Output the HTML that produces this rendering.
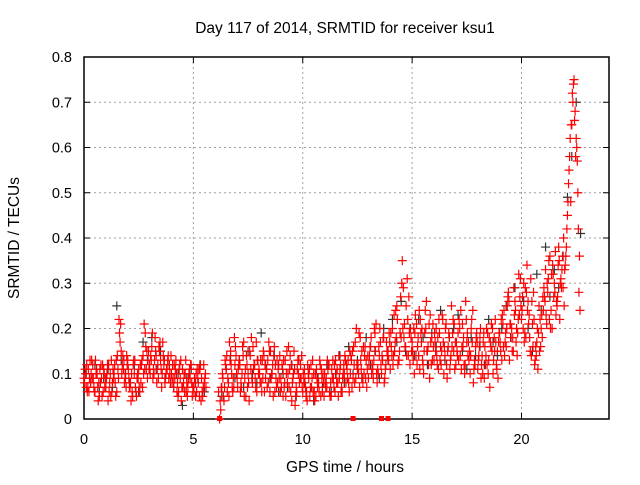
<!DOCTYPE html>
<html><head><meta charset="utf-8"><style>
body{margin:0;background:#fff;}
svg text{font-family:"Liberation Sans",sans-serif;fill:#000;}
</style></head><body>
<svg id="chart" width="640" height="480" viewBox="0 0 640 480" xmlns="http://www.w3.org/2000/svg">
<rect width="640" height="480" fill="#fff"/>
<text x="345" y="33" text-anchor="middle" font-size="15.5">Day 117 of 2014, SRMTID for receiver ksu1</text>
<g id="grid"></g><g id="axes"></g><g id="marks"></g>
<text x="345" y="472" text-anchor="middle" font-size="15.5">GPS time / hours</text>
<text x="19" y="238" text-anchor="middle" font-size="15.5" transform="rotate(-90 19 238)">SRMTID / TECUs</text>
</svg>
<script>
const xTicks=[0,5,10,15,20];
const yTicks=[0,0.1,0.2,0.3,0.4,0.5,0.6,0.7,0.8];
const yTickLabels=["0","0.1","0.2","0.3","0.4","0.5","0.6","0.7","0.8"];
const redA=[.09,.07,.11,.08,.12,.06,.10,.05,.09,.11,
.07,.04,.10,.08,.12,.06,.22,.15,.11,.09,
.13,.07,.06,.10,.05,.11,.08,.14,.19,.09,
.12,.16,.10,.14,.09,.13,.17,.08,.11,.12,
.10,.07,.13,.05,.09,.11,.06,.08,.10,.12,
.07,.05,.09,.11,.06,.08,null,null,null,null,
null,null,.00,.07,.04,.11,.08,.15,.06,.12,
.09,.13,.07,.17,.05,.10,.14,.08,.12,.06,
.11,.08,.15,.09,.13,.06,.10,.16,.07,.12,
.09,.05,.13,.08,.11,.04,.15,.07,.10,.12,
.06,.09,.04,.11,.07,.10,.05,.08,.12,.06,
.10,.07,.12,.05,.09,.13,.08,.11,.06,.10,
.12,.08,.14,.09,.17,.11,.07,.15,.10,.13,
.09,.16,.11,.19,.08,.14,.10,.18,.12,.15,
.11,.20,.15,.25,.13,.18,.29,.16,.22,.12,
.17,.10,.21,.14,.19,.12,.24,.15,.09,.18,
.13,.20,.11,.16,.22,.14,.09,.18,.25,.15,
.12,.19,.14,.21,.10,.17,.13,.20,.08,.16,
.11,.18,.14,.09,.20,.13,.16,.10,.22,.15,
.19,.13,.24,.16,.28,.21,.18,.26,.14,.23,
.22,.30,.18,.26,.15,.21,.12,.17,.25,.20,
.24,.33,.28,.36,.20,.30,.26,.38,.31,.29,
.34,.45,.58,.65,.75,.62,.42];
const redB=[.11,.06,.09,.13,.07,.10,.04,.08,.12,.07,
.10,.06,.13,.09,.05,.11,.17,.12,.08,.14,
.09,.04,.12,.07,.10,.06,.13,.21,.11,.15,
.14,.09,.18,.11,.15,.07,.12,.10,.14,.08,
.12,.09,.06,.11,.04,.08,.13,.07,.09,.05,
.09,.06,.11,.04,.07,.10,null,null,null,null,
null,.06,.02,.09,.13,.06,.17,.10,.07,.14,
.11,.06,.16,.09,.12,.04,.18,.11,.07,.13,
.08,.13,.06,.11,.17,.09,.05,.12,.08,.14,
.12,.07,.10,.16,.06,.09,.03,.11,.08,.14,
.08,.05,.10,.07,.13,.04,.09,.06,.11,.08,
.07,.11,.05,.09,.12,.08,.14,.06,.10,.13,
.09,.15,.07,.12,.20,.10,.13,.08,.16,.11,
.14,.10,.13,.21,.10,.17,.13,.09,.15,.19,
.16,.14,.24,.12,.19,.35,.21,.14,.27,.18,
.13,.23,.16,.11,.20,.15,.26,.12,.17,.21,
.17,.12,.19,.15,.10,.21,.16,.13,.19,.11,
.15,.22,.11,.18,.26,.14,.10,.17,.13,.19,
.14,.09,.17,.12,.19,.07,.15,.18,.12,.17,
.15,.21,.17,.25,.13,.20,.29,.17,.22,.31,
.27,.19,.34,.23,.14,.28,.16,.11,.22,.18,
.27,.21,.35,.24,.32,.37,.27,.22,.33,.25,
.38,.52,.48,.70,.68,.57,.36];
const redC=[.08,.12,.06,.10,.09,.13,.07,.11,.05,.10,
.09,.12,.05,.11,.08,.14,.19,.10,.13,.07,
.11,.08,.05,.13,.09,.07,.12,.10,.16,.13,
.10,.19,.13,.08,.16,.11,.14,.09,.13,.10,
.08,.12,.10,.06,.13,.07,.10,.05,.11,.08,
.06,.10,.08,.12,.05,.09,null,null,null,null,
null,null,.04,.10,.07,.14,.05,.12,.09,.16,
.07,.12,.10,.05,.14,.08,.11,.16,.09,.13,
.10,.06,.14,.11,.08,.15,.12,.06,.13,.09,
.07,.13,.05,.10,.14,.08,.11,.06,.13,.09,
.10,.07,.12,.05,.09,.06,.11,.08,.05,.10,
.08,.13,.06,.11,.07,.10,.05,.12,.09,.14,
.11,.06,.13,.16,.09,.12,.18,.09,.14,.07,
.12,.18,.09,.15,.11,.20,.14,.08,.17,.13,
.19,.12,.17,.22,.15,.30,.18,.25,.14,.20,
.15,.19,.12,.24,.17,.10,.20,.16,.23,.13,
.19,.14,.22,.12,.17,.20,.15,.11,.16,.21,
.17,.13,.24,.16,.12,.19,.15,.22,.11,.18,
.13,.20,.10,.16,.12,.18,.21,.13,.17,.09,
.17,.23,.14,.20,.26,.18,.15,.24,.19,.27,
.24,.17,.28,.21,.31,.16,.13,.20,.15,.23,
.29,.23,.31,.20,.34,.28,.25,.35,.29,.40,
.36,.48,.62,.72,.66,.60,.28];
const redD=[.10,.07,.13,.09,.06,.11,.08,.12,.06,.09,
.12,.08,.06,.10,.13,.09,.21,.14,.10,.12,
.07,.10,.13,.06,.09,.12,.07,.11,.15,.11,
.13,.11,.15,.12,.17,.10,.13,.11,.09,.14,
.09,.11,.08,.12,.07,.10,.06,.09,.12,.07,
.08,.11,.05,.09,.12,.07,null,null,null,null,
null,null,.07,.05,.12,.09,.13,.07,.18,.10,
.12,.08,.14,.11,.07,.15,.09,.12,.17,.10,
.13,.09,.12,.07,.15,.10,.14,.09,.11,.06,
.11,.08,.15,.07,.12,.10,.05,.13,.09,.07,
.11,.06,.09,.12,.06,.10,.07,.13,.09,.05,
.09,.12,.08,.13,.06,.11,.09,.07,.12,.08,
.13,.10,.15,.08,.12,.19,.11,.16,.09,.14,
.16,.12,.20,.10,.16,.12,.18,.11,.14,.17,
.14,.23,.18,.13,.27,.20,.16,.31,.19,.15,
.20,.14,.18,.22,.13,.19,.15,.21,.12,.16,
.15,.18,.13,.23,.16,.12,.19,.14,.22,.17,
.14,.20,.16,.12,.22,.17,.14,.24,.12,.17,
.16,.12,.19,.14,.10,.17,.20,.15,.11,.19,
.22,.16,.19,.27,.21,.15,.23,.20,.32,.25,
.20,.29,.24,.18,.26,.22,.14,.19,.16,.27,
.26,.30,.22,.32,.27,.23,.34,.30,.36,.33,
.42,.55,.65,.74,.58,.50,.24];
const black=[.10,.08,.12,.06,.09,.11,.07,.25,.13,.10,
.08,.12,.06,.17,.13,.18,.11,.15,.09,.12,
.07,.10,.03,.09,.11,.08,.12,.06,null,null,
null,.05,.11,.14,.09,.13,.07,.15,.10,.08,
.19,.12,.09,.14,.06,.10,.07,.12,.05,.09,
.08,.11,.04,.09,.07,.12,.06,.10,.14,.08,
.16,.10,.13,.09,.18,.12,.15,.09,.20,.13,
.22,.17,.26,.15,.20,.14,.22,.18,.12,.19,
.16,.24,.13,.18,.20,.23,.15,.11,.18,.14,
.16,.12,.22,.17,.14,.20,.25,.18,.29,.23,
.26,.20,.15,.32,.24,.38,.27,.33,.29,.36,
.49,.58,.70,.41];
const zeroTimes=[6.2,12.3,13.6,13.9];
const X0=84,X1=609,Y0=419,Y1=57;
const xs=t=>X0+t/24*(X1-X0);
const ys=v=>Y0-v/0.8*(Y0-Y1);
const NS="http://www.w3.org/2000/svg";
function mk(tag,attrs,parent){const e=document.createElementNS(NS,tag);for(const k in attrs)e.setAttribute(k,attrs[k]);parent.appendChild(e);return e;}
const grid=document.getElementById('grid'),axes=document.getElementById('axes'),marks=document.getElementById('marks');
xTicks.forEach(t=>{
 if(t>0){const g=mk('line',{x1:xs(t),x2:xs(t),y1:Y0,y2:Y1,stroke:'#a0a0a0','stroke-dasharray':'2,3'},grid);
 
 }
 const tk=mk('line',{x1:xs(t),x2:xs(t),y1:Y0,y2:Y0-6,stroke:'#000'},axes);
 
 
 mk('line',{x1:xs(t),x2:xs(t),y1:Y1,y2:Y1+6,stroke:'#000'},axes);
 const tx=mk('text',{x:xs(t),y:Y0+25,'text-anchor':'middle','font-size':14.5},axes);tx.textContent=t;
 
 
});
yTicks.forEach((v,i)=>{
 if(v>0&&v<0.8){const g=mk('line',{x1:X0,x2:X1,y1:ys(v),y2:ys(v),stroke:'#a0a0a0','stroke-dasharray':'2,3'},grid);
 
 }
 mk('line',{x1:X0,x2:X0+6,y1:ys(v),y2:ys(v),stroke:'#000'},axes);
 mk('line',{x1:X1,x2:X1-6,y1:ys(v),y2:ys(v),stroke:'#000'},axes);
 const tx=mk('text',{x:X0-12,y:ys(v)+5,'text-anchor':'end','font-size':14.5},axes);tx.textContent=yTickLabels[i];
 
 
});
const fr=mk('rect',{x:X0,y:Y1,width:X1-X0,height:Y0-Y1,fill:'none',stroke:'#000','stroke-width':1.5},axes);


function plus(t,v,color){
 const x=xs(t),y=ys(v);
 const p=mk('path',{d:`M${x-4.5} ${y}h9M${x} ${y-4.5}v9`,stroke:color,'stroke-width':1.2,fill:'none'},marks);
 
 
}
black.forEach((v,i)=>{if(v!==null)plus(i*0.2+0.1,v,'#333');});
redA.forEach((v,i)=>{if(v!==null)plus(i*0.1,v,'#f00');});
redC.forEach((v,i)=>{if(v!==null)plus(i*0.1+0.025,v,'#f00');});
redB.forEach((v,i)=>{if(v!==null)plus(i*0.1+0.05,v,'#f00');});
redD.forEach((v,i)=>{if(v!==null)plus(i*0.1+0.075,v,'#f00');});
zeroTimes.forEach(t=>{
 const r=mk('rect',{x:xs(t)-2.5,y:Y0-3,width:5,height:5,fill:'#f00'},marks);
 
 
});
</script>
</body></html>
